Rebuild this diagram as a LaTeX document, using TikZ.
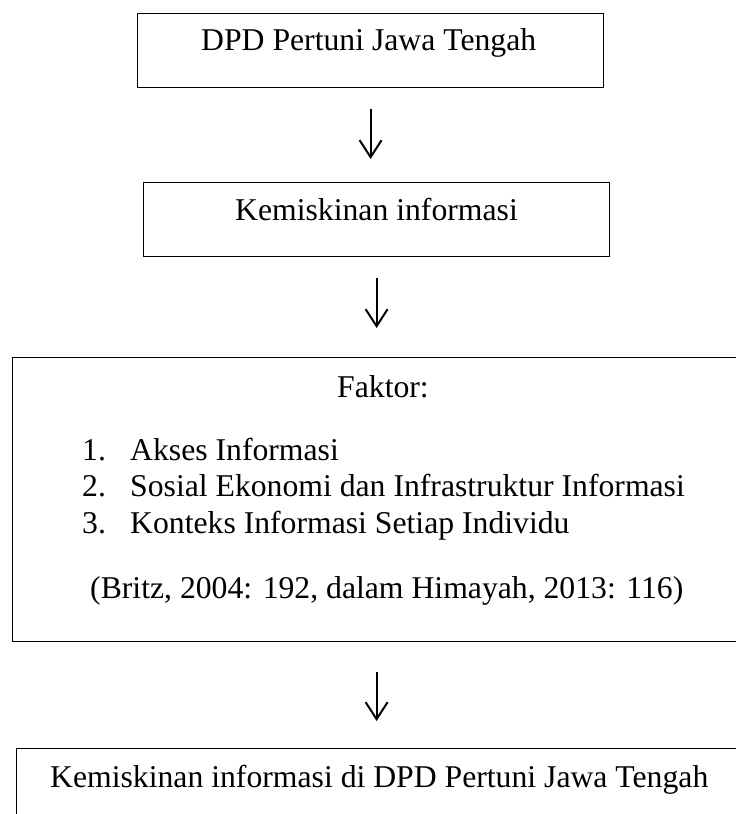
\documentclass[tikz,border=0pt]{standalone}
\usepackage{fontspec}
\setmainfont{Liberation Serif}
\usetikzlibrary{arrows.meta,calc}
\begin{document}
\begin{tikzpicture}[x=1pt,y=-1pt,
  box/.style={draw, line width=1.2pt, inner sep=0pt, anchor=north west},
  txt/.style={font=\fontsize{31.7}{36.5}\selectfont, inner sep=0pt, anchor=base west},
  flow/.style={line width=2pt, -{Straight Barb[length=17pt,width=22pt,line width=2pt]}}
]
\clip (0,0) rectangle (736,814);
\fill[white] (0,0) rectangle (736,814);
% boxes
\node[box, minimum width=466pt, minimum height=74pt] (b1) at (137,13) {};
\node[box, minimum width=466pt, minimum height=74pt] (b2) at (143,182) {};
\node[box, minimum width=760pt, minimum height=284pt] (b3) at (12,357) {};
\node[box, minimum width=760pt, minimum height=120pt] (b4) at (16,748) {};
% texts
\node[txt] (t1) at (201,50.7) {DPD Pertuni Jawa Tengah};
\node[txt] (t2) at (235,220.7) {Kemiskinan informasi};
\node[txt] (t3) at (337,397) {Faktor:};
\node[txt] (n1) at (82,460.7) {1.};
\node[txt] (i1) at (130,460.7) {Akses Informasi};
\node[txt] (n2) at (82,496.7) {2.};
\node[txt] (i2) at (130,496.7) {Sosial Ekonomi dan Infrastruktur Informasi};
\node[txt] (n3) at (82,533) {3.};
\node[txt] (i3) at (130,533) {Konteks Informasi Setiap Individu};
\node[txt] (t4) at (90,598) {(Britz, 2004: 192, dalam Himayah, 2013: 116)};
\node[txt] (t5) at (50,787) {Kemiskinan informasi di DPD Pertuni Jawa Tengah};
% arrows
\draw[flow] ([yshift=-21pt]b1.south) -- ([yshift=23pt]b1.south |- b2.north);
\draw[flow] ([yshift=-21pt]b2.south) -- ([yshift=29pt]b2.south |- b3.north);
\draw[flow] ([yshift=-30pt]b2.south |- b3.south) -- ([yshift=27pt]b2.south |- b4.north);
\end{tikzpicture}
\end{document}
